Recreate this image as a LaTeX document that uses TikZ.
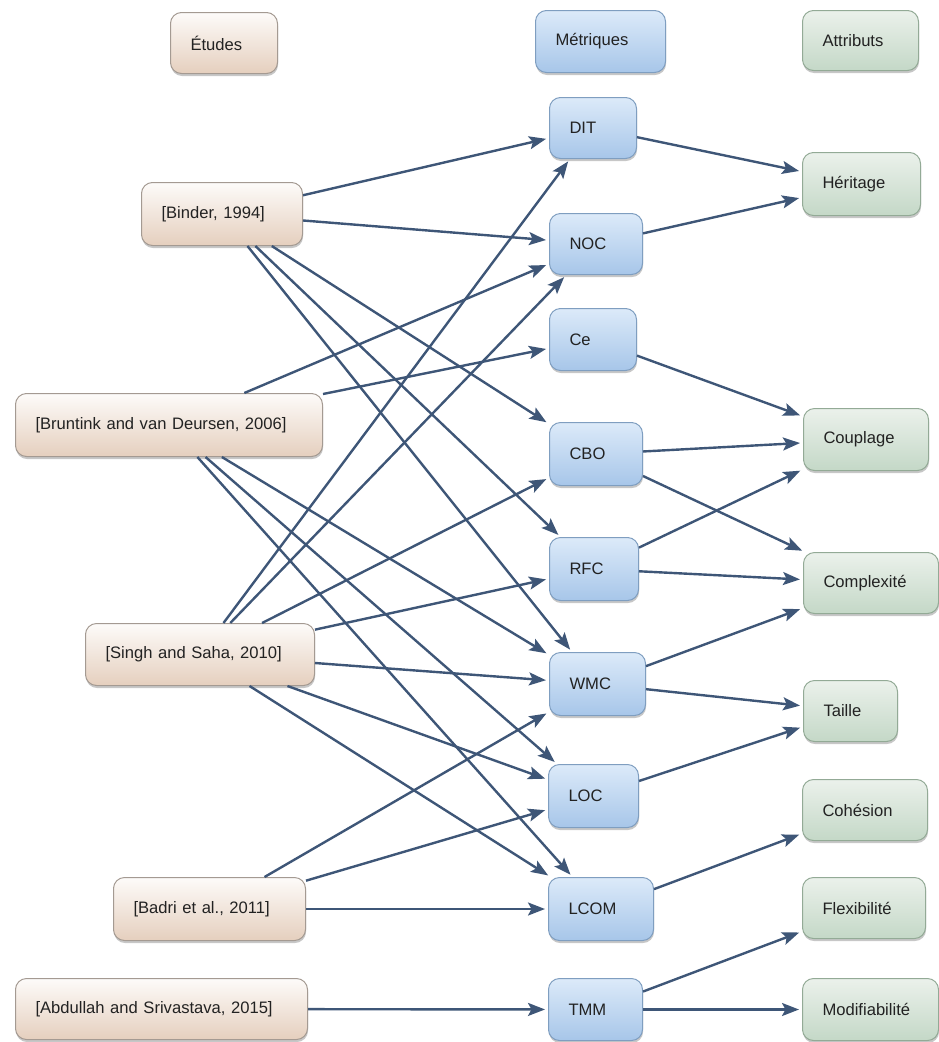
\documentclass[tikz,border=0pt]{standalone}
\usepackage{fontspec}
\setmainfont{Liberation Sans}
\usetikzlibrary{arrows.meta,shadows}

\definecolor{edgecol}{HTML}{3E5677}
\definecolor{studytop}{HTML}{FDFBF9}
\definecolor{studybot}{HTML}{E5CFBE}
\definecolor{studyline}{HTML}{A49A92}
\definecolor{metrictop}{HTML}{DCEAF9}
\definecolor{metricbot}{HTML}{A7C6E9}
\definecolor{metricline}{HTML}{7F9EC0}
\definecolor{attrtop}{HTML}{EBF1EB}
\definecolor{attrbot}{HTML}{C4D8C7}
\definecolor{attrline}{HTML}{93AA96}
\definecolor{labelcol}{HTML}{222222}

\tikzset{
  box/.style={draw, rounded corners=11pt, line width=1pt,
    inner xsep=20pt, inner ysep=0pt, align=left, anchor=north west,
    font=\fontsize{16.6}{19}\selectfont, text=labelcol,
    drop shadow={shadow xshift=0.5pt, shadow yshift=-2.5pt, opacity=0.22, fill=black}},
  study/.style={box, draw=studyline, top color=studytop, bottom color=studybot},
  metric/.style={box, draw=metricline, top color=metrictop, bottom color=metricbot},
  attr/.style={box, draw=attrline, top color=attrtop, bottom color=attrbot},
  link/.style={draw=edgecol, line width=2.4pt,
    -{Stealth[length=17pt,width=13pt,inset=3.5pt]}, shorten >=3pt},
}

% style, name, left, top, right, bottom, label
\newcommand\placebox[7]{%
  \pgfmathsetmacro\boxw{#5-#3-40}%
  \pgfmathsetmacro\boxh{#6-#4}%
  \node[#1, text width=\boxw pt, minimum height=\boxh pt] (#2) at (#3,#4) {#7};
}

\begin{document}
\begin{tikzpicture}[x=1pt,y=-1pt]
  \useasboundingbox (0,0) rectangle (939,1042);

  % studies
  \placebox{study}{etudes}{170}{12}{277}{73}{Études}
  \placebox{study}{binder}{141}{182}{302}{245}{[Binder, 1994]}
  \placebox{study}{bruntink}{15}{393}{322}{456}{[Bruntink and van Deursen, 2006]}
  \placebox{study}{singh}{85}{623}{314}{685}{[Singh and Saha, 2010]}
  \placebox{study}{badri}{113}{877}{305}{940}{[Badri et al., 2011]}
  \placebox{study}{abdullah}{15}{978}{307}{1039}{[Abdullah and Srivastava, 2015]}

  % metrics
  \placebox{metric}{metriques}{535}{10}{665}{72}{Métriques}
  \placebox{metric}{dit}{549}{97}{636}{158}{DIT}
  \placebox{metric}{noc}{549}{213}{642}{274}{NOC}
  \placebox{metric}{ce}{549}{308}{636}{370}{Ce}
  \placebox{metric}{cbo}{549}{422}{642}{485}{CBO}
  \placebox{metric}{rfc}{549}{537}{638}{600}{RFC}
  \placebox{metric}{wmc}{549}{652}{645}{715}{WMC}
  \placebox{metric}{loc}{548}{764}{638}{827}{LOC}
  \placebox{metric}{lcom}{548}{877}{653}{940}{LCOM}
  \placebox{metric}{tmm}{548}{978}{642}{1040}{TMM}

  % quality attributes
  \placebox{attr}{attributs}{802}{10}{918}{70}{Attributs}
  \placebox{attr}{heritage}{802}{152}{920}{215}{Héritage}
  \placebox{attr}{couplage}{803}{408}{928}{470}{Couplage}
  \placebox{attr}{complexite}{803}{552}{938}{613}{Complexité}
  \placebox{attr}{taille}{803}{680}{897}{741}{Taille}
  \placebox{attr}{cohesion}{802}{779}{927}{840}{Cohésion}
  \placebox{attr}{flexibilite}{802}{877}{925}{938}{Flexibilité}
  \placebox{attr}{modifiabilite}{802}{978}{938}{1040}{Modifiabilité}

  % study -> metric
  \foreach \s/\t in {binder/dit, binder/noc, binder/cbo, binder/rfc, binder/wmc,
      bruntink/noc, bruntink/ce, bruntink/wmc, bruntink/loc, bruntink/lcom,
      singh/dit, singh/noc, singh/cbo, singh/rfc, singh/wmc, singh/loc, singh/lcom,
      badri/wmc, badri/loc, badri/lcom, abdullah/tmm}
    \draw[link] (\s) -- (\t);

  % metric -> attribute
  \foreach \s/\t in {dit/heritage, noc/heritage, ce/couplage, cbo/couplage,
      cbo/complexite, rfc/couplage, rfc/complexite, wmc/complexite, wmc/taille,
      loc/taille, lcom/cohesion, tmm/flexibilite, tmm/modifiabilite}
    \draw[link] (\s) -- (\t);
\end{tikzpicture}
\end{document}
